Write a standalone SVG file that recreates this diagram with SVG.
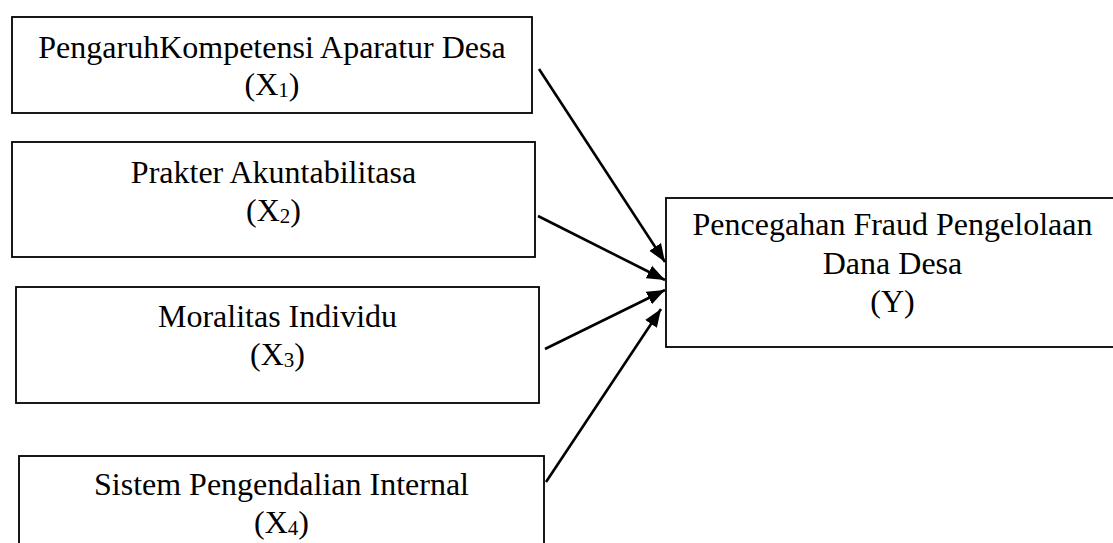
<svg xmlns="http://www.w3.org/2000/svg" width="1113" height="543" viewBox="0 0 1113 543">
  <style>
    .box { fill: #ffffff; stroke: #000000; stroke-width: 1.8; }
    .lbl { font-family: "Liberation Serif", "Times New Roman", serif; font-size: 32px; fill: #000000; text-anchor: middle; }
    .sub { font-size: 21px; }
    .edge { stroke: #000000; stroke-width: 2.6; fill: none; marker-end: url(#arrow); }
  </style>
  <defs>
    <marker id="arrow" markerUnits="userSpaceOnUse" markerWidth="20" markerHeight="16" refX="18" refY="8" orient="auto">
      <path d="M0,1 L18,8 L0,15 Z" fill="#000000"/>
    </marker>
  </defs>
  <rect width="1113" height="543" fill="#ffffff"/>

  <g id="node-x1">
    <rect class="box" x="12" y="17" width="520" height="96"/>
    <text class="lbl" x="272" y="58">PengaruhKompetensi Aparatur Desa</text>
    <text class="lbl" x="272" y="95">(X<tspan class="sub" dy="2">1</tspan><tspan dy="-2">)</tspan></text>
  </g>

  <g id="node-x2">
    <rect class="box" x="12" y="142" width="523" height="115"/>
    <text class="lbl" x="273.5" y="183">Prakter Akuntabilitasa</text>
    <text class="lbl" x="273.5" y="221">(X<tspan class="sub" dy="2">2</tspan><tspan dy="-2">)</tspan></text>
  </g>

  <g id="node-x3">
    <rect class="box" x="16" y="287" width="523" height="116"/>
    <text class="lbl" x="277.5" y="327">Moralitas Individu</text>
    <text class="lbl" x="277.5" y="365">(X<tspan class="sub" dy="2">3</tspan><tspan dy="-2">)</tspan></text>
  </g>

  <g id="node-x4">
    <rect class="box" x="19" y="456" width="525" height="110"/>
    <text class="lbl" x="281.5" y="495">Sistem Pengendalian Internal</text>
    <text class="lbl" x="281.5" y="533">(X<tspan class="sub" dy="2">4</tspan><tspan dy="-2">)</tspan></text>
  </g>

  <g id="node-y">
    <rect class="box" x="666" y="198" width="460" height="149"/>
    <text class="lbl" x="892.5" y="235">Pencegahan Fraud Pengelolaan</text>
    <text class="lbl" x="892.5" y="274">Dana Desa</text>
    <text class="lbl" x="892.5" y="312">(Y)</text>
  </g>

  <g id="connectors">
    <line class="edge" x1="539" y1="69" x2="665" y2="262"/>
    <line class="edge" x1="538" y1="216" x2="665" y2="280"/>
    <line class="edge" x1="545" y1="349" x2="665" y2="290"/>
    <line class="edge" x1="546" y1="482" x2="661" y2="309"/>
  </g>
</svg>
